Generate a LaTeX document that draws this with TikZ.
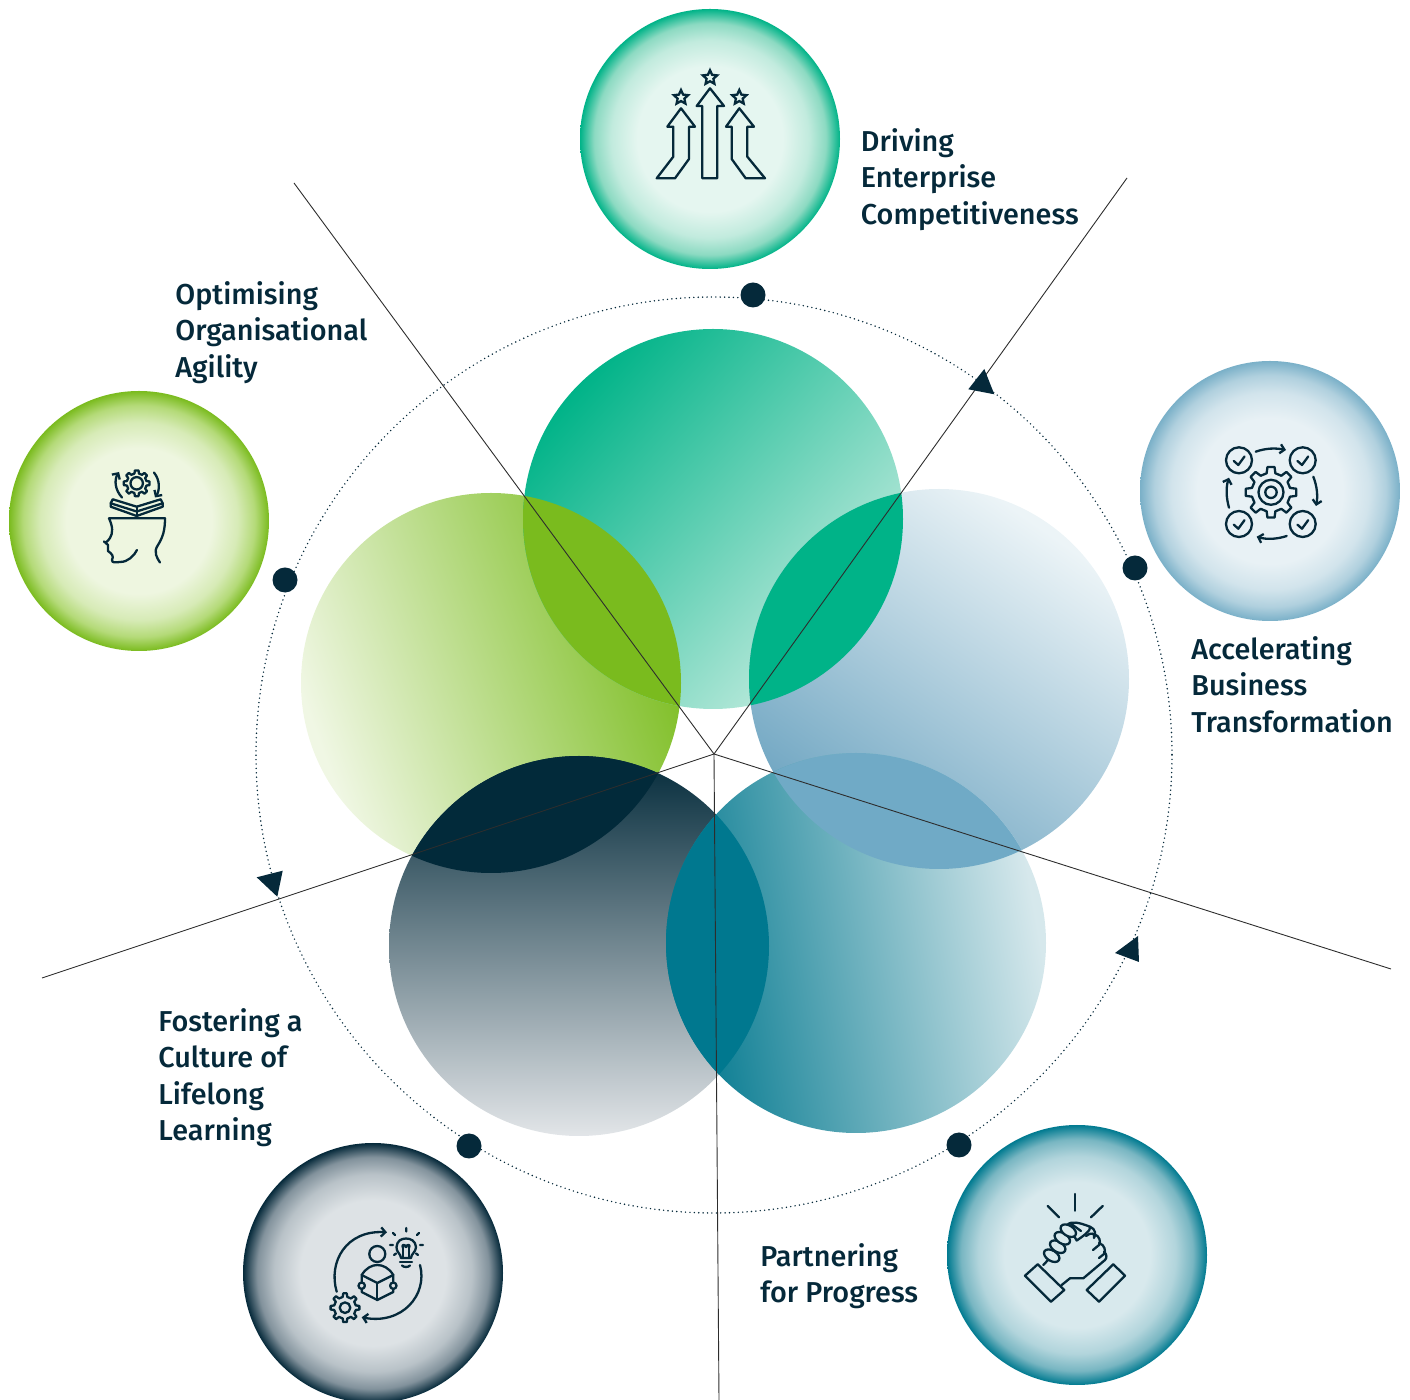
\documentclass[tikz,border=0pt]{standalone}
\usepackage{fontspec}
\setmainfont{Fira Sans}[UprightFont=* Medium]
\usetikzlibrary{shapes.geometric,arrows.meta,calc}
\definecolor{ink}{RGB}{5,41,58}
\definecolor{spoke}{RGB}{45,45,45}
\definecolor{lensA}{RGB}{122,187,30}
\definecolor{lensB}{RGB}{0,179,136}
\definecolor{lensC}{RGB}{2,42,58}
\definecolor{lensD}{RGB}{112,170,198}
\definecolor{lensE}{RGB}{0,120,143}
\definecolor{t0}{RGB}{192,235,222}\definecolor{t1}{RGB}{0,179,136}
\definecolor{r0}{RGB}{236,244,247}\definecolor{r1}{RGB}{112,166,194}
\definecolor{b0}{RGB}{214,232,236}\definecolor{b1}{RGB}{5,122,144}
\definecolor{d0}{RGB}{226,229,232}\definecolor{d1}{RGB}{3,42,58}
\definecolor{l0}{RGB}{240,247,228}\definecolor{l1}{RGB}{126,190,36}
\pgfdeclareverticalshading{sTop}{100bp}{color(0bp)=(t0); color(26bp)=(t0); color(75bp)=(t1); color(100bp)=(t1)}
\pgfdeclareverticalshading{sRight}{100bp}{color(0bp)=(r1); color(26bp)=(r1); color(74bp)=(r0); color(100bp)=(r0)}
\pgfdeclareverticalshading{sBR}{100bp}{color(0bp)=(b1); color(26bp)=(b1); color(74bp)=(b0); color(100bp)=(b0)}
\pgfdeclareverticalshading{sBL}{100bp}{color(0bp)=(d0); color(25bp)=(d0); color(75bp)=(d1); color(100bp)=(d1)}
\pgfdeclareverticalshading{sLeft}{100bp}{color(0bp)=(l0); color(26bp)=(l0); color(74bp)=(l1); color(100bp)=(l1)}
\definecolor{ga}{RGB}{229,246,240}\definecolor{gb}{RGB}{140,218,194}\definecolor{gc}{RGB}{0,179,136}
\definecolor{ba}{RGB}{232,241,245}\definecolor{bb}{RGB}{176,208,222}\definecolor{bc}{RGB}{122,176,200}
\definecolor{ta}{RGB}{216,233,237}\definecolor{tb}{RGB}{120,182,194}\definecolor{tc}{RGB}{0,122,144}
\definecolor{da}{RGB}{221,226,229}\definecolor{db}{RGB}{130,146,156}\definecolor{dc}{RGB}{5,41,58}
\definecolor{la}{RGB}{238,246,224}\definecolor{lb}{RGB}{180,218,120}\definecolor{lc}{RGB}{122,187,30}
\colorlet{gm}{ga!60!gb}\colorlet{bm}{ba!60!bb}\colorlet{tm}{ta!60!tb}\colorlet{dm}{da!60!db}\colorlet{lm}{la!60!lb}
\pgfdeclareradialshading{rGreen}{\pgfpointorigin}{color(0bp)=(ga); color(14bp)=(ga); color(19bp)=(gm); color(22.3bp)=(gb); color(25bp)=(gc); color(50bp)=(gc)}
\pgfdeclareradialshading{rBlue}{\pgfpointorigin}{color(0bp)=(ba); color(14bp)=(ba); color(19bp)=(bm); color(22.3bp)=(bb); color(25bp)=(bc); color(50bp)=(bc)}
\pgfdeclareradialshading{rTeal}{\pgfpointorigin}{color(0bp)=(ta); color(14bp)=(ta); color(19bp)=(tm); color(22.3bp)=(tb); color(25bp)=(tc); color(50bp)=(tc)}
\pgfdeclareradialshading{rDark}{\pgfpointorigin}{color(0bp)=(da); color(14bp)=(da); color(19bp)=(dm); color(22.3bp)=(db); color(25bp)=(dc); color(50bp)=(dc)}
\pgfdeclareradialshading{rLime}{\pgfpointorigin}{color(0bp)=(la); color(14bp)=(la); color(19bp)=(lm); color(22.3bp)=(lb); color(25bp)=(lc); color(50bp)=(lc)}
\tikzset{
  caption/.style={anchor=north west,align=left,text=ink,inner sep=0pt,font=\fontsize{14.4}{18.25}\selectfont},
  dotmark/.style={circle,fill=ink,minimum size=12.5pt,inner sep=0pt},
  spokeline/.style={draw=spoke,line width=0.45pt},
  ring/.style={draw=ink,line width=0.8pt,line cap=round,dash pattern=on 0pt off 2.2pt},
  marker/.style={fill=ink},
  iconline/.style={draw=ink,line width=1.15pt,line join=round,line cap=round},
  iconarrow/.style={iconline,-{Straight Barb[length=2.2pt,width=4.6pt,line width=1.15pt]}},
  starmark/.style={star,star points=5,star point ratio=2.1,draw=ink,line width=1.15pt,minimum size=7.5pt,inner sep=0pt},
}
\newcommand{\gearshape}[7]{% x y ro ri n w1 w2
  \begin{scope}[shift={(#1,#2)}]
  \pgfmathsetmacro{\gstep}{360/#5}
  \pgfmathsetmacro{\gnext}{\gstep}
  \pgfmathsetmacro{\glast}{360-\gstep}
  \draw[iconline] ({-#6}:#4) \foreach \a in {0,\gnext,...,\glast} { -- ({\a-#6}:#4) -- ({\a-#7}:#3) -- ({\a+#7}:#3) -- ({\a+#6}:#4) } -- cycle;
  \end{scope}}
\newcommand{\tick}[2]{\draw[iconline] (#1-5.2,#2+0.7) -- (#1-0.7,#2+4.7) -- (#1+5.5,#2-3.8);}
\begin{document}
\begin{tikzpicture}[x=0.5pt,y=-0.5pt]
\useasboundingbox (0,0) rectangle (1410,1400);
% big overlapping circles
\shade[shading=sLeft,shading angle=-70] (491,683) circle[radius=190];
\shade[shading=sTop,shading angle=48] (713,519) circle[radius=190];
\shade[shading=sRight,shading angle=-35] (939,679) circle[radius=190];
\shade[shading=sBL,shading angle=0] (579,946) circle[radius=190];
\shade[shading=sBR,shading angle=-80] (856,943) circle[radius=190];
% lens-shaped overlaps
\begin{scope}\clip (491,683) circle[radius=190]; \fill[lensA] (713,519) circle[radius=190];\end{scope}
\begin{scope}\clip (713,519) circle[radius=190]; \fill[lensB] (939,679) circle[radius=190];\end{scope}
\begin{scope}\clip (491,683) circle[radius=190]; \fill[lensC] (579,946) circle[radius=190];\end{scope}
\begin{scope}\clip (939,679) circle[radius=190]; \fill[lensD] (856,943) circle[radius=190];\end{scope}
\begin{scope}\clip (579,946) circle[radius=190]; \fill[lensE] (856,943) circle[radius=190];\end{scope}
% dotted ring
\draw[ring] (714,755) circle[radius=458];
% spokes
\coordinate (hub) at (714,754);
\coordinate (s1) at (294,183);
\coordinate (s2) at (1127,178);
\coordinate (s3) at (1391,969);
\coordinate (s4) at (719,1400);
\coordinate (s5) at (42,978);
\foreach \e in {s1,s2,s3,s4,s5} \draw[spokeline] (hub) -- (\e);
% direction markers
\fill[marker] (984.3,369) -- (968.3,389.3) -- (994.3,394.3) -- cycle;
\fill[marker] (1138,936) -- (1115,953) -- (1139,962) -- cycle;
\fill[marker] (256.7,877.3) -- (282.7,870.7) -- (277.3,896.7) -- cycle;
% icon discs
\shade[shading=rGreen] (710,139) circle[radius=130];
\shade[shading=rBlue] (1270,491) circle[radius=130];
\shade[shading=rTeal] (1077,1255) circle[radius=130];
\shade[shading=rDark] (373,1273) circle[radius=130];
\shade[shading=rLime] (139,521) circle[radius=130];
% dots on the ring
\node[dotmark] (d1) at (753,295) {};
\node[dotmark] (d2) at (1135,568) {};
\node[dotmark] (d3) at (959,1145) {};
\node[dotmark] (d4) at (469,1146) {};
\node[dotmark] (d5) at (285,580) {};
% captions
\node[caption] (c1) at (860.5,127.8) {Driving\\Enterprise\\Competitiveness};
\node[caption] (c2) at (1191,635.8) {Accelerating\\Business\\Transformation};
\node[caption] (c3) at (760,1242.8) {Partnering\\for Progress};
\node[caption] (c4) at (158,1007.8) {Fostering a\\Culture of\\Lifelong\\Learning};
\node[caption] (c5) at (175,280.8) {Optimising\\Organisational\\Agility};
% ---- icon 1: arrows and stars
\draw[iconline] (710,88.3) -- (696.7,106) -- (702.3,106) -- (702.3,178.3) -- (717.3,178.3) -- (717.3,106) -- (724,106) -- cycle;
\draw[iconline] (681,108.3) -- (667.3,126.7) -- (673.3,126.7) -- (673.3,156.7) -- (656.7,178.3) -- (675,178.3) -- (689,159) -- (689,126.7) -- (695,126.7) -- cycle;
\draw[iconline] (739.3,108.3) -- (726,126.7) -- (731.7,126.7) -- (731.7,159) -- (745.7,178.3) -- (765,178.3) -- (747.3,156.7) -- (747.3,126.7) -- (754,126.7) -- cycle;
\node[starmark] (st1) at (710,77.7) {};
\node[starmark] (st2) at (681,97.5) {};
\node[starmark] (st3) at (739.3,97.5) {};
% ---- icon 2: gear with checks
\gearshape{1271}{492.3}{25.5}{19.5}{8}{13}{8}
\draw[iconline] (1271,492.3) circle[radius=12.5];
\draw[iconline] (1271,492.3) circle[radius=5.7];
\foreach \x/\y in {1239/460.3,1302.7/460.3,1239/524,1302.7/524}{
  \draw[iconline] (\x,\y) circle[radius=13];
  \tick{\x}{\y}}
\draw[iconarrow] (1255.7,451.7) .. controls (1266,448) and (1276,448) .. (1286,450);
\draw[iconarrow] (1313.3,476.7) .. controls (1317,486) and (1318,496) .. (1316,506);
\draw[iconarrow] (1286.7,536) .. controls (1276,539.5) and (1266,539.5) .. (1256.7,536.7);
\draw[iconarrow] (1229,507.7) .. controls (1226,497) and (1226,487) .. (1229,477.7);
% ---- icon 3: clasped hands
\draw[iconline] (1075,1194) -- (1075,1210.7);
\draw[iconline] (1047.7,1206) -- (1059,1217.3);
\draw[iconline] (1102.7,1206) -- (1091,1217.3);
\draw[iconline] (1037.7,1264.3) -- (1025,1275.7) -- (1051,1301.7) -- (1064.3,1290) -- cycle;
\draw[iconline] (1113.3,1264.3) -- (1125,1275.7) -- (1099,1301.7) -- (1086.7,1290) -- cycle;
\draw[iconline] (1061.7,1285) -- (1070,1278.3) -- (1083.3,1278.3) -- (1105,1260);
\draw[iconline] (1043.3,1265) -- (1048,1260);
% top of the upper hand and thumb
\draw[iconline] (1068,1224) .. controls (1072,1221.5) and (1078,1222) .. (1090,1226.7) .. controls (1091,1230) and (1085,1235) .. (1076.7,1240.5) -- (1070,1229);
\draw[iconline] (1070,1223) -- (1081,1231);
% fingers of the right hand
\draw[iconline] (1090,1226.7) .. controls (1096,1229) and (1096,1235) .. (1094,1238) .. controls (1095.5,1233) and (1091,1232) .. (1086,1236);
\draw[iconline] (1094,1234) .. controls (1100,1236) and (1101,1242) .. (1099,1245) -- (1093,1250);
\draw[iconline] (1099,1243) .. controls (1105,1245) and (1106,1251) .. (1104,1254) -- (1099,1258);
\draw[iconline] (1104,1252) .. controls (1107,1254) and (1107,1258) .. (1105,1260);
% fingers of the left hand
\foreach \x/\y in {1051.7/1255.7,1057.7/1246.7,1062.3/1238.3,1068.3/1230.7}
  \draw[iconline,fill=ta,rotate around={-32:(\x,\y)}] (\x,\y) ellipse[x radius=8.5,y radius=5.2];
% ---- icon 4: reader in a cycle
\draw[iconline] (377.3,1254) circle[radius=8];
\draw[iconline] (361.7,1275) .. controls (366,1268) and (372,1265) .. (377.3,1265) .. controls (383,1265) and (389,1268) .. (393.3,1275) -- (393.3,1292) -- (377.3,1300) -- (361.7,1292) -- cycle;
\draw[iconline] (361.7,1275) -- (377.3,1283) -- (393.3,1275);
\draw[iconline] (377.3,1283) -- (377.3,1300);
\draw[iconline,fill=da] (361.7,1285.7) circle[radius=3.2];
\draw[iconline,fill=da] (393.3,1285.7) circle[radius=3.2];
\draw[iconarrow] (336.7,1291.7) .. controls (328,1262) and (346,1230) .. (387,1232.3);
\draw[iconarrow] (420,1265) .. controls (428,1295) and (402,1325) .. (361.7,1317.3);
\gearshape{345}{1307.7}{14.5}{11}{8}{12}{7}
\draw[iconline] (345,1307.7) circle[radius=5.3];
\draw[iconline] (401,1258) .. controls (401,1254) and (396,1252) .. (396.5,1247) .. controls (397,1241) and (401,1238.5) .. (406,1238.5) .. controls (411,1238.5) and (415.5,1241) .. (416,1247) .. controls (416,1252) and (411,1254) .. (411,1258) -- cycle;
\draw[iconline] (400,1262) -- (412,1262);
\draw[iconline] (402,1265.5) .. controls (404,1267.5) and (408,1267.5) .. (410,1265.5);
\draw[iconline] (403,1258) -- (403,1248) (409,1258) -- (409,1248);
\draw[iconline] (403,1248) .. controls (401,1244) and (405,1244) .. (406,1247) .. controls (407,1244) and (411,1244) .. (409,1248);
\draw[iconline] (406.3,1228) -- (406.3,1231.5) (419,1233) -- (417,1235) (393,1233) -- (395,1235) (390,1245) -- (393,1245) (420,1245) -- (423,1245) (394,1255) -- (396,1253.5) (418,1255) -- (416,1253.5);
% ---- icon 5: head with book and gear
\draw[iconline] (165,518.3) -- (109,518.3) .. controls (113,527) and (113,533) .. (110,538) .. controls (108,541) and (105,544) .. (104,541.5) -- (108,545) .. controls (109,548) and (107,550) .. (108,551) .. controls (112,554) and (114,556) .. (112,560) .. controls (112,563) and (115,562.5) .. (120,562) .. controls (128,562) and (134,556) .. (137,550);
\draw[iconline] (165,518.3) .. controls (165,530) and (163,537) .. (158,545) .. controls (153,552) and (157,558) .. (160,562.5);
\draw[iconline] (110.7,503.3) -- (112.7,499.3) -- (136.7,506.7) -- (160.7,499.3) -- (162.7,503.3) -- (162.7,506.7) -- (136.7,516) -- (110.7,506.7) -- cycle;
\draw[iconline] (110.7,503.3) -- (136.7,511.5) -- (162.7,503.3);
\draw[iconline] (136.7,506.7) -- (136.7,516);
\gearshape{136.7}{483.3}{13}{10}{8}{13}{8}
\draw[iconline] (136.7,483.3) circle[radius=6.2];
\draw[iconarrow] (122,497.5) .. controls (115,490) and (114,480) .. (119,472);
\draw[iconarrow] (154,472.5) .. controls (160,480) and (160,490) .. (155,497.5);
\end{tikzpicture}
\end{document}
